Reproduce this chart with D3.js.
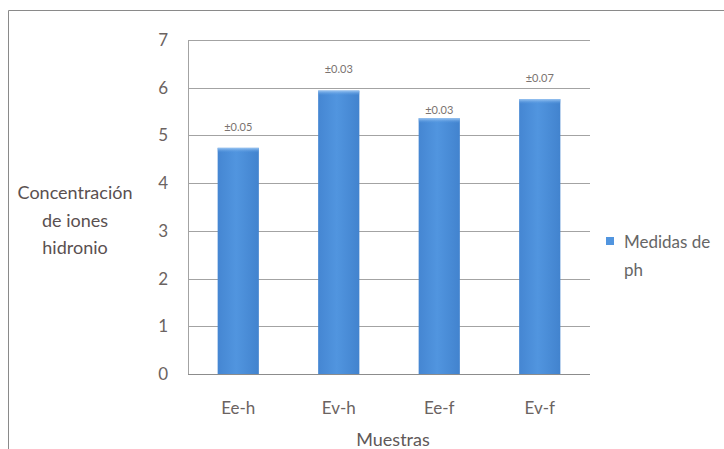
<!DOCTYPE html>
<html>
<head>
<meta charset="utf-8">
<script src="https://cdn.jsdelivr.net/npm/d3@7"></script>
<style>
  html, body { margin: 0; padding: 0; background: #fff; }
  svg { display: block; font-family: Lato, "Open Sans", sans-serif; }
</style>
</head>
<body>
<svg id="chart" width="724" height="449"></svg>
<script>
// Muestras y medidas de pH
const categories = ["Ee-h", "Ev-h", "Ee-f", "Ev-f"];
const phValues = [4.74, 5.94, 5.36, 5.76];
const errorLabels = ["±0.05", "±0.03", "±0.03", "±0.07"];
const yTicks = [0, 1, 2, 3, 4, 5, 6, 7];
const seriesName = ["Medidas de", "ph"];
const yTitle = ["Concentración", "de iones", "hidronio"];
const xTitle = "Muestras";

// vertical lift of each error label above its bar (px)
const labelLift = [21, 21, 8, 21];

const svg = d3.select("#chart");
const plot = { left: 188, right: 590, top: 40, bottom: 374 };
const textColor = "#6b6361";

// outer frame
svg.append("path")
  .attr("d", "M8.5,449 V10.5 H724")
  .attr("fill", "none")
  .attr("stroke", "#8a8a8a")
  .attr("stroke-width", 1);

const x = d3.scaleBand()
  .domain(categories)
  .range([plot.left, plot.right])
  .paddingInner(0.59)
  .paddingOuter(0.295);

const y = d3.scaleLinear()
  .domain([0, 7])
  .range([plot.bottom, plot.top]);

// gradient for bars
const defs = svg.append("defs");
const grad = defs.append("linearGradient")
  .attr("id", "barGrad").attr("x1", 0).attr("x2", 1).attr("y1", 0).attr("y2", 0);
grad.append("stop").attr("offset", "0%").attr("stop-color", "#4586d2");
grad.append("stop").attr("offset", "45%").attr("stop-color", "#5195df");
grad.append("stop").attr("offset", "100%").attr("stop-color", "#4283ce");
const topGrad = defs.append("linearGradient")
  .attr("id", "topGrad").attr("x1", 0).attr("x2", 0).attr("y1", 0).attr("y2", 1);
topGrad.append("stop").attr("offset", "0%").attr("stop-color", "#9cc6f2");
topGrad.append("stop").attr("offset", "100%").attr("stop-color", "#5195df").attr("stop-opacity", 0);

// gridlines
svg.append("g")
  .selectAll("line")
  .data(yTicks)
  .join("line")
  .attr("x1", plot.left)
  .attr("x2", plot.right)
  .attr("y1", d => Math.round(y(d)) + 0.5)
  .attr("y2", d => Math.round(y(d)) + 0.5)
  .attr("stroke", d => d === 0 ? "#8c8c8c" : "#a3a3a3")
  .attr("stroke-width", 1);

// left axis line
svg.append("line")
  .attr("x1", plot.left + 0.5).attr("x2", plot.left + 0.5)
  .attr("y1", plot.top).attr("y2", plot.bottom)
  .attr("stroke", "#a3a3a3");

// y axis tick labels
const yAxis = d3.axisLeft(y).tickValues(yTicks).tickFormat(d3.format("d")).tickSize(0).tickPadding(20);
const yG = svg.append("g").attr("transform", `translate(${plot.left},0)`).call(yAxis);
yG.select(".domain").remove();
yG.selectAll("text")
  .attr("font-size", 17)
  .attr("font-family", "Lato, 'Open Sans', sans-serif")
  .attr("fill", textColor);

// bars
const bars = svg.append("g");
bars.selectAll("rect.bar")
  .data(phValues)
  .join("rect")
  .attr("class", "bar")
  .attr("x", (d, i) => x(categories[i]))
  .attr("width", x.bandwidth())
  .attr("y", d => y(d))
  .attr("height", d => y(0) - y(d))
  .attr("fill", "url(#barGrad)");
bars.selectAll("rect.hl")
  .data(phValues)
  .join("rect")
  .attr("class", "hl")
  .attr("x", (d, i) => x(categories[i]))
  .attr("width", x.bandwidth())
  .attr("y", d => y(d))
  .attr("height", 5)
  .attr("fill", "url(#topGrad)");

// error labels
svg.append("g")
  .selectAll("text")
  .data(errorLabels)
  .join("text")
  .attr("x", (d, i) => x(categories[i]) + x.bandwidth() / 2)
  .attr("y", (d, i) => y(phValues[i]) - labelLift[i])
  .attr("dy", "0.35em")
  .attr("text-anchor", "middle")
  .attr("font-size", 11)
  .attr("fill", "#7a7370")
  .text(d => d);

// x axis labels
const xAxis = d3.axisBottom(x).tickSize(0).tickPadding(28);
const xG = svg.append("g").attr("transform", `translate(0,${plot.bottom})`).call(xAxis);
xG.select(".domain").remove();
xG.selectAll("text")
  .attr("font-size", 17)
  .attr("font-family", "Lato, 'Open Sans', sans-serif")
  .attr("fill", textColor);

// x title
svg.append("text")
  .attr("x", 393)
  .attr("y", 440)
  .attr("dy", "0.35em")
  .attr("text-anchor", "middle")
  .attr("font-size", 18)
  .attr("fill", "#605858")
  .text(xTitle);

// y title
svg.append("g")
  .selectAll("text")
  .data(yTitle)
  .join("text")
  .attr("x", 75)
  .attr("y", (d, i) => 193 + i * 27.5)
  .attr("dy", "0.35em")
  .attr("text-anchor", "middle")
  .attr("font-size", 18)
  .attr("fill", "#5a5050")
  .text(d => d);

// legend
svg.append("rect")
  .attr("x", 606).attr("y", 237).attr("width", 8).attr("height", 8)
  .attr("fill", "#5195df");
svg.append("g")
  .selectAll("text")
  .data(seriesName)
  .join("text")
  .attr("x", 624)
  .attr("y", (d, i) => 242 + i * 28)
  .attr("dy", "0.35em")
  .attr("font-size", 17)
  .attr("fill", "#666")
  .text(d => d);
</script>
</body>
</html>
